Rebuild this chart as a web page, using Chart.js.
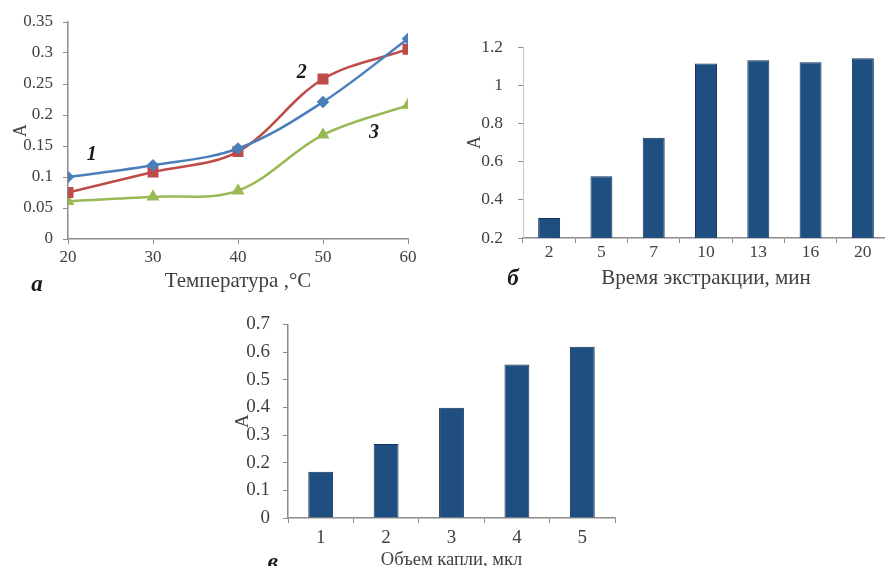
<!DOCTYPE html>
<html>
<head>
<meta charset="utf-8">
<script src="https://cdn.jsdelivr.net/npm/chart.js@4"></script>
<style>
  html, body { margin: 0; padding: 0; background: #fff; overflow: hidden; width: 885px; height: 566px; }
  canvas { position: absolute; }
</style>
</head>
<body>
<canvas id="chartA" width="430" height="300" style="left:0;top:0"></canvas>
<canvas id="chartB" width="439" height="300" style="left:450px;top:0"></canvas>
<canvas id="chartC" width="400" height="280" style="left:220px;top:300px"></canvas>
<script>
// ---- data ----
const temps = [20, 30, 40, 50, 60];
const curve1 = [0.100, 0.119, 0.146, 0.221, 0.323];
const curve2 = [0.075, 0.108, 0.141, 0.258, 0.306];
const curve3 = [0.061, 0.068, 0.078, 0.168, 0.216];
const curveNames = ['1', '2', '3'];
const curveNameX = [22.8, 47.5, 56];
const curveNameY = [0.135, 0.268, 0.171];

const timeCats = ['2', '5', '7', '10', '13', '16', '20'];
const timeValues = [0.305, 0.523, 0.725, 1.113, 1.130, 1.120, 1.141];

const dropCats = ['1', '2', '3', '4', '5'];
const dropValues = [0.167, 0.268, 0.399, 0.555, 0.619];

// ---- common style ----
const SERIF = '"Liberation Serif", "Times New Roman", serif';
const axisGray = '#8c8c8c';
const textGray = '#404040';
const barBlue = '#1f4e80';

// panel letter + free text labels
const textPlugin = {
  id: 'panelText',
  afterDraw(chart, args, opts) {
    const ctx = chart.ctx;
    ctx.save();
    ctx.fillStyle = '#1a1a1a';
    ctx.textAlign = 'center';
    ctx.textBaseline = 'middle';
    if (opts.letter) {
      ctx.font = 'italic bold 23px ' + SERIF;
      ctx.fillText(opts.letter, opts.letterX, opts.letterY);
    }
    if (opts.names) {
      ctx.font = 'italic bold 20px ' + SERIF;
      const xs = chart.scales.x, ys = chart.scales.y;
      opts.names.forEach((n, i) => {
        ctx.fillText(n, xs.getPixelForValue(opts.nameX[i]), ys.getPixelForValue(opts.nameY[i]));
      });
    }
    ctx.restore();
  }
};

function fixSize(w) { return scale => { scale.width = w; }; }
function fixHeight(h) { return scale => { scale.height = h; }; }

function tickFmt(v) { return String(+v.toFixed(2)); }

// ===== а: temperature =====
new Chart(document.getElementById('chartA'), {
  type: 'line',
  data: {
    datasets: [
      {
        data: temps.map((t, i) => ({ x: t, y: curve1[i] })),
        borderColor: '#4a7ebb', backgroundColor: '#4a7ebb',
        pointStyle: 'rectRot', pointRadius: 4.5, borderWidth: 2.5, tension: 0.35
      },
      {
        data: temps.map((t, i) => ({ x: t, y: curve2[i] })),
        borderColor: '#be4b48', backgroundColor: '#be4b48',
        pointStyle: 'rect', pointRadius: 6, borderWidth: 2.5, tension: 0.35
      },
      {
        data: temps.map((t, i) => ({ x: t, y: curve3[i] })),
        borderColor: '#98b954', backgroundColor: '#98b954',
        pointStyle: 'triangle', pointRadius: 5, borderWidth: 2.5, tension: 0.35
      }
    ]
  },
  options: {
    responsive: false,
    animation: false,
    layout: { padding: { left: 0, top: 22, right: 22, bottom: 0 } },
    plugins: {
      legend: { display: false },
      tooltip: { enabled: false },
      panelText: { letter: 'а', letterX: 37, letterY: 285, names: curveNames, nameX: curveNameX, nameY: curveNameY }
    },
    scales: {
      x: {
        type: 'linear', min: 20, max: 60,
        afterFit: fixHeight(61),
        border: { color: axisGray, width: 1.5 },
        grid: { drawOnChartArea: false, color: axisGray, tickLength: 5 },
        ticks: { stepSize: 10, padding: 3, color: textGray, font: { family: SERIF, size: 17 } },
        title: { display: true, text: 'Температура ,°С', color: textGray, font: { family: SERIF, size: 21 }, padding: { top: 0, bottom: 6 } }
      },
      y: {
        min: 0, max: 0.35,
        afterFit: fixSize(68),
        border: { color: axisGray, width: 1.5 },
        grid: { drawOnChartArea: false, color: axisGray, tickLength: 5 },
        ticks: { stepSize: 0.05, padding: 10, color: textGray, font: { family: SERIF, size: 17 }, callback: tickFmt },
        title: { display: true, text: 'A', color: textGray, font: { family: SERIF, size: 18 }, padding: { top: 10, bottom: 0 } }
      }
    }
  },
  plugins: [textPlugin]
});

// ===== б: extraction time =====
new Chart(document.getElementById('chartB'), {
  type: 'bar',
  data: {
    labels: timeCats,
    datasets: [{
      data: timeValues,
      backgroundColor: barBlue, borderColor: '#12325a', borderWidth: 1,
      barPercentage: 0.42, categoryPercentage: 1
    }]
  },
  options: {
    responsive: false,
    animation: false,
    layout: { padding: { left: 0, top: 47, right: 0, bottom: 0 } },
    plugins: {
      legend: { display: false },
      tooltip: { enabled: false },
      panelText: { letter: 'б', letterX: 63, letterY: 279 }
    },
    scales: {
      x: {
        afterFit: fixHeight(62),
        border: { color: axisGray, width: 1.5 },
        grid: { drawOnChartArea: false, color: axisGray, tickLength: 5 },
        ticks: { padding: -1, color: textGray, font: { family: SERIF, size: 17.5 } },
        title: { display: true, text: 'Время экстракции, мин', color: textGray, font: { family: SERIF, size: 21 }, padding: { top: 0, bottom: 9 } }
      },
      y: {
        min: 0.2, max: 1.2,
        afterFit: fixSize(73),
        border: { color: '#c8c8c8', width: 1 },
        grid: { drawOnChartArea: false, color: axisGray, tickLength: 5 },
        ticks: { stepSize: 0.2, padding: 15, color: textGray, font: { family: SERIF, size: 17.5 }, callback: tickFmt },
        title: { display: true, text: 'A', color: textGray, font: { family: SERIF, size: 18 }, padding: { top: 14, bottom: 0 } }
      }
    }
  },
  plugins: [textPlugin]
});

// ===== в: drop volume =====
new Chart(document.getElementById('chartC'), {
  type: 'bar',
  data: {
    labels: dropCats,
    datasets: [{
      data: dropValues,
      backgroundColor: barBlue, borderColor: '#12325a', borderWidth: 1,
      barPercentage: 0.38, categoryPercentage: 1
    }]
  },
  options: {
    responsive: false,
    animation: false,
    layout: { padding: { left: 0, top: 16, right: 5, bottom: 0 } },
    plugins: {
      legend: { display: false },
      tooltip: { enabled: false },
      panelText: { letter: 'в', letterX: 53, letterY: 263 }
    },
    scales: {
      x: {
        afterFit: fixHeight(62),
        border: { color: axisGray, width: 1.5 },
        grid: { drawOnChartArea: false, color: axisGray, tickLength: 5 },
        ticks: { padding: 4, color: textGray, font: { family: SERIF, size: 19 } },
        title: { display: true, text: 'Объем капли, мкл', color: textGray, font: { family: SERIF, size: 18.5 }, padding: { top: 0, bottom: 9 } }
      },
      y: {
        min: 0, max: 0.7,
        afterFit: fixSize(68),
        border: { color: axisGray, width: 1.5 },
        grid: { drawOnChartArea: false, color: axisGray, tickLength: 5 },
        ticks: { stepSize: 0.1, padding: 13, color: textGray, font: { family: SERIF, size: 19 }, callback: tickFmt },
        title: { display: true, text: 'A', color: textGray, font: { family: SERIF, size: 19 }, padding: { top: 12, bottom: 0 } }
      }
    }
  },
  plugins: [textPlugin]
});
</script>
</body>
</html>
